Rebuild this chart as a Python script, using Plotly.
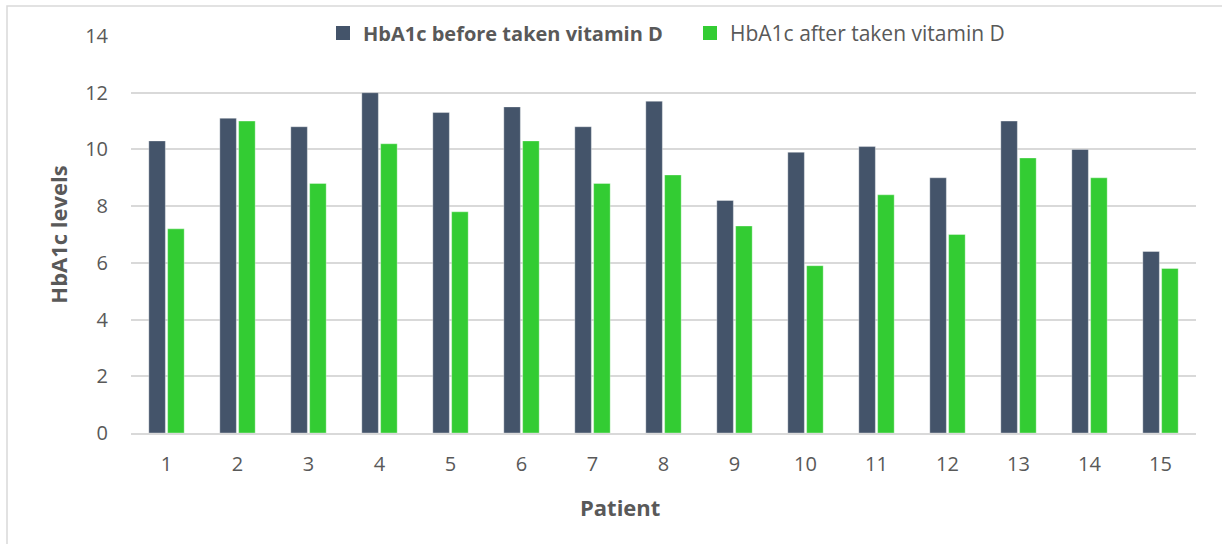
import plotly.graph_objects as go

patients = [str(i) for i in range(1, 16)]
before_vals = [10.3, 11.1, 10.8, 12.0, 11.3, 11.5, 10.8, 11.7, 8.2, 9.9, 10.1, 9.0, 11.0, 10.0, 6.4]
after_vals = [7.2, 11.0, 8.8, 10.2, 7.8, 10.3, 8.8, 9.1, 7.3, 5.9, 8.4, 7.0, 9.7, 9.0, 5.8]
y_ticks = [0, 2, 4, 6, 8, 10, 12, 14]
series_names = ["HbA1c before taken vitamin D", "HbA1c after taken vitamin D"]

W, H = 1222, 544
L, R, T, B = 131, 26, 36, 111
pw, ph = W - L - R, H - T - B

FONT = "Open Sans"
TXT = "#595959"
C_BEFORE, C_AFTER = "#44546A", "#33CC33"

fig = go.Figure()
fig.add_trace(go.Bar(
    x=patients, y=before_vals, name=series_names[0], showlegend=False,
    marker=dict(color=C_BEFORE, line=dict(color="rgba(255,255,255,0.35)", width=1)),
))
fig.add_trace(go.Bar(
    x=patients, y=after_vals, name=series_names[1], showlegend=False,
    marker=dict(color=C_AFTER, line=dict(color="rgba(255,255,255,0.35)", width=1)),
))
# legend entries (square swatches like the reference)
fig.add_trace(go.Scatter(
    x=[None], y=[None], mode="markers", name="<b>" + series_names[0] + "</b>",
    marker=dict(symbol="square", size=14, color=C_BEFORE),
))
fig.add_trace(go.Scatter(
    x=[None], y=[None], mode="markers",
    name='<span style="font-size:21px">' + series_names[1] + "</span>",
    marker=dict(symbol="square", size=14, color=C_AFTER),
))

fig.update_layout(
    width=W, height=H,
    margin=dict(l=L, r=R, t=T, b=B, pad=0),
    paper_bgcolor="white", plot_bgcolor="white",
    barmode="group", bargap=0.47, bargroupgap=0.12,
    font=dict(family=FONT, color=TXT, size=20),
    legend=dict(
        orientation="h", x=(323 - L) / pw, xanchor="left", y=1 + 3 / ph, yanchor="middle",
        bgcolor="rgba(0,0,0,0)", font=dict(size=20, color=TXT),
        itemwidth=30, entrywidth=322, traceorder="normal",
    ),
    xaxis=dict(
        type="category", showgrid=False, showline=True, linecolor="#D9D9D9", linewidth=2,
        ticks="", tickfont=dict(size=20, color=TXT), ticklabelstandoff=12,
    ),
    yaxis=dict(
        range=[0, 14], tickvals=y_ticks, showgrid=True, gridcolor="#D9D9D9", gridwidth=1.5,
        zeroline=False, showline=False, ticks="", tickfont=dict(size=20, color=TXT),
        ticklabelstandoff=22,
        title=dict(text="<b>HbA1c levels</b>", font=dict(size=22, color=TXT), standoff=11),
    ),
    annotations=[dict(
        text="<b>Patient</b>", xref="paper", yref="paper",
        x=(620 - L) / pw, y=-(507 - (T + ph)) / ph, xanchor="center", yanchor="middle",
        showarrow=False, font=dict(size=22, color=TXT),
    )],
    shapes=[dict(
        type="rect", xref="paper", yref="paper",
        x0=(7 - L) / pw, x1=(W + 2 - L) / pw,
        y0=-(H + 2 - T - ph) / ph - 0.01, y1=1 + (T - 6) / ph,
        line=dict(color="#D9D9D9", width=1.5), fillcolor="rgba(0,0,0,0)", layer="below",
    )],
)

fig.write_html("out.html", config={"displayModeBar": False},
               post_script="document.body.style.margin='0';")
